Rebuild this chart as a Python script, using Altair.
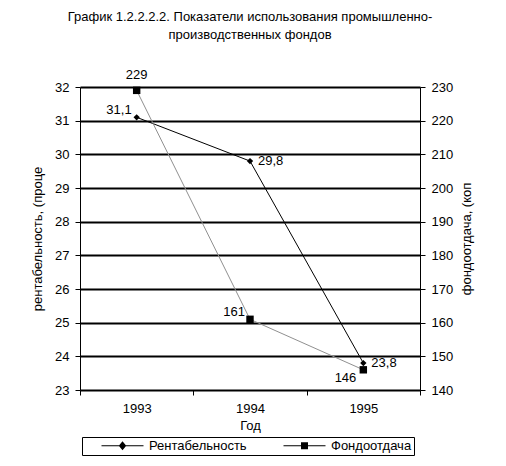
import altair as alt
import pandas as pd

# ---- data ----
years = ["1993", "1994", "1995"]
rent = [31.1, 29.8, 23.8]          # Рентабельность, %
fond = [229, 161, 146]             # Фондоотдача, коп
series_names = ["Рентабельность", "Фондоотдача"]
left_ticks = [23, 24, 25, 26, 27, 28, 29, 30, 31, 32]
right_ticks = [140, 150, 160, 170, 180, 190, 200, 210, 220, 230]
title_lines = ["График 1.2.2.2.2.  Показатели использования промышленно-",
               "производственных фондов"]

df = pd.DataFrame({
    "year": years,
    "rent": rent,
    "fond": fond,
    "rent_lbl": [str(v).replace(".", ",") for v in rent],
    "fond_lbl": [str(v) for v in fond],
})

FONT = "Liberation Sans"

x_enc = alt.X(
    "year:N",
    bandPosition=0.5,
    scale=alt.Scale(type="band", paddingInner=0, paddingOuter=0),
    axis=alt.Axis(title="Год", tickBand="extent", labelAngle=0, labelPadding=7,
                  titlePadding=4, domainColor="black", tickColor="black", grid=False),
)

y_left = alt.Y(
    "rent:Q",
    scale=alt.Scale(domain=[23, 32], nice=False, zero=False),
    axis=alt.Axis(values=left_ticks, orient="left", grid=True, gridColor="black",
                  gridWidth=2, gridOpacity=1, title="рентабельность, (проце",
                  labelPadding=6, titlePadding=10),
)

y_right = alt.Y(
    "fond:Q",
    scale=alt.Scale(domain=[140, 230], nice=False, zero=False),
    axis=alt.Axis(values=right_ticks, orient="right", grid=False,
                  title="фондоотдача, (коп", titleAngle=270, titleBaseline="top",
                  labelPadding=6, titlePadding=8),
)

base = alt.Chart(df)

rent_layer = alt.layer(
    base.mark_line(color="black", strokeWidth=1).encode(x=x_enc, y=y_left),
    base.mark_point(shape="diamond", filled=True, color="black", size=40, opacity=1)
        .encode(x=x_enc, y=y_left),
    base.transform_filter(alt.datum.year == years[0])
        .mark_text(align="right", baseline="middle", dx=-5, dy=-7, font=FONT, fontSize=13, color="black")
        .encode(x=x_enc, y=y_left, text="rent_lbl:N"),
    base.transform_filter(alt.datum.year != years[0])
        .mark_text(align="left", baseline="middle", dx=8, dy=0, font=FONT, fontSize=13, color="black")
        .encode(x=x_enc, y=y_left, text="rent_lbl:N"),
)

fond_layer = alt.layer(
    base.mark_line(color="#909090", strokeWidth=1).encode(x=x_enc, y=y_right),
    base.mark_point(shape="square", filled=True, color="black", size=55, opacity=1)
        .encode(x=x_enc, y=y_right),
    base.transform_filter(alt.datum.year == years[0])
        .mark_text(align="center", baseline="middle", dy=-15, font=FONT, fontSize=13, color="black")
        .encode(x=x_enc, y=y_right, text="fond_lbl:N"),
    base.transform_filter(alt.datum.year == years[1])
        .mark_text(align="right", baseline="middle", dx=-5, dy=-7, font=FONT, fontSize=13, color="black")
        .encode(x=x_enc, y=y_right, text="fond_lbl:N"),
    base.transform_filter(alt.datum.year == years[2])
        .mark_text(align="right", baseline="middle", dx=-7, dy=8, font=FONT, fontSize=13, color="black")
        .encode(x=x_enc, y=y_right, text="fond_lbl:N"),
)

# legend symbols: a line with a marker in the middle (custom paths, symbol size 100 -> unit = 5px)
diamond_path = "M-4.2,-0.1H4.2V0.1H-4.2Z M0,-0.9L0.75,0L0,0.9L-0.75,0Z"
square_path = "M-4.2,-0.1H4.2V0.1H-4.2Z M-0.7,-0.7H0.7V0.7H-0.7Z"

legend_layer = (
    base.transform_calculate(series="'" + series_names[0] + "'")
    .transform_filter("false")
    .mark_point(filled=True, color="black", opacity=1)
    .encode(
        shape=alt.Shape(
            "series:N",
            scale=alt.Scale(domain=series_names, range=[diamond_path, square_path]),
            legend=alt.Legend(
                title=None, orient="none", direction="horizontal",
                legendX=2, legendY=350,
                strokeColor="black", padding=2, symbolSize=100,
                symbolFillColor="black", symbolStrokeWidth=0,
                symbolOffset=32, labelOffset=20, columnPadding=19,
                labelFont=FONT, labelFontSize=13, labelColor="black",
                labelExpr="datum.label + '\u00a0\u00a0\u00a0'",
            ),
        )
    )
)

chart = (
    alt.layer(rent_layer, fond_layer, legend_layer)
    .resolve_scale(y="independent")
    .properties(
        width=340,
        height=303,
        title=alt.TitleParams(text=title_lines, font=FONT, fontSize=13, fontWeight="normal",
                              color="black", anchor="middle", lineHeight=18, offset=27),
        autosize=alt.AutoSizeParams(type="none"),
        padding={"left": 72, "top": 79, "right": 78, "bottom": 68},
    )
    .configure_view(stroke=None)
    .configure_axis(
        labelFont=FONT, labelFontSize=13, labelColor="black",
        titleFont=FONT, titleFontSize=13, titleFontWeight="normal", titleColor="black",
        domainColor="black", tickColor="black", tickSize=5, domainWidth=1, tickWidth=1,
    )
)

chart.save("out.html", embed_options={"renderer": "svg", "actions": False})
